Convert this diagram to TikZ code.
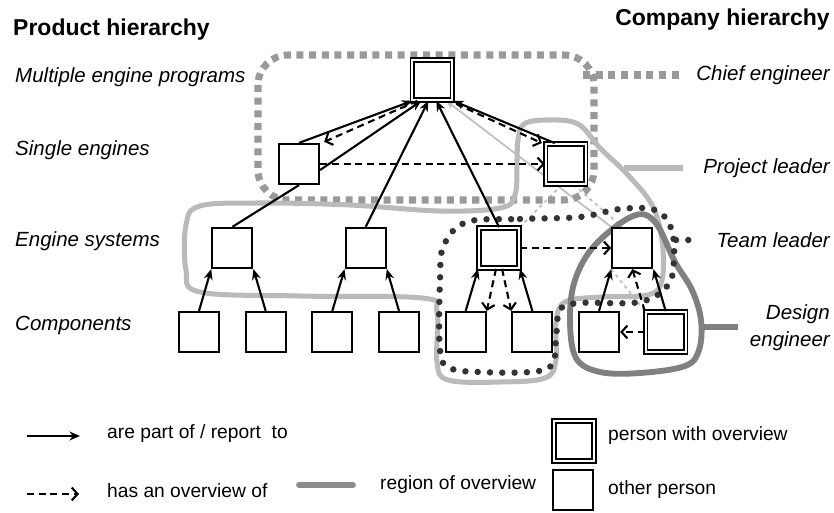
\documentclass[tikz,border=0pt]{standalone}
\usepackage{fontspec}
\setmainfont{Liberation Sans}
\usetikzlibrary{arrows.meta, positioning, calc, backgrounds}
\tikzset{
person/.style={draw, fill=white, line width=1.9pt, minimum size=1.2cm, inner sep=0pt}, % a plain box
leader/.style={person, line width=1.5pt, double, double distance=1.6pt}, % a person with overview
part/.style={-{Stealth[length=9pt,width=7.5pt]}, line width=1.8pt}, % are part of / report to
sees/.style={-{Straight Barb[length=5pt,width=11pt]}, line width=1.8pt, dash pattern=on 6pt off 4pt}, % has an overview of
faint/.style={black!25, line width=1.5pt},
chiefzone/.style={black!40, line width=6pt, dash pattern=on 6pt off 4.8pt},
projzone/.style={black!27, line width=4.3pt, line join=round},
teamzone/.style={black!80, line width=5.5pt, line cap=round, dash pattern=on 0pt off 10.5pt},
designzone/.style={black!50, line width=5pt, line join=round},
level/.style={font=\fontsize{17.5}{21}\selectfont\itshape, anchor=west, inner sep=0pt},
role/.style={font=\fontsize{17.5}{23}\selectfont\itshape, anchor=east, align=right, inner sep=0pt},
heading/.style={font=\fontsize{19.6}{23}\selectfont\bfseries, inner sep=0pt},
legend/.style={font=\fontsize{16.4}{19}\selectfont, anchor=west, inner sep=0pt},
}
\begin{document}
\begin{tikzpicture}[x=0.03cm, y=-0.03cm, node distance=2cm]
        \useasboundingbox (0,0) rectangle (834,513);

        % headings and level names
        \node[heading, anchor=west] (prodhead) at (13,30) {Product hierarchy};
        \node[heading, anchor=east] (comphead) at (830,20) {Company hierarchy};
        \node[level] (lvl1) at (15,77) {Multiple engine programs};
        \node[level] (lvl2) at (15,150) {Single engines};
        \node[level] (lvl3) at (15,241) {Engine systems};
        \node[level] (lvl4) at (15,325) {Components};
        \node[role] (chiefname) at (830,75) {Chief engineer};
        \node[role] (projname) at (830,168) {Project leader};
        \node[role] (teamname) at (830,240) {Team leader};
        \node[role] (designname) at (830,328) {Design\\engineer};

        % components
        \node[person] (c1) at (199,332) {};
        \node[person, right of=c1] (c2) {};
        \node[person, right of=c2] (c3) {};
        \node[person, right of=c3] (c4) {};
        \node[person, right of=c4] (c5) {};
        \node[person, right of=c5] (c6) {};
        \node[person, right of=c6] (c7) {};
        \node[leader, right of=c7] (c8) {};

        % engine systems, single engines, programs
        \node[person] (e1) at ($(c1)!.5!(c2)+(0,-84)$) {};
        \node[person] (e2) at ($(c3)!.5!(c4)+(0,-84)$) {};
        \node[leader] (e3) at ($(c5)!.5!(c6)+(0,-84)$) {};
        \node[person] (e4) at ($(c7)!.5!(c8)+(0,-84)$) {};
        \node[person] (s1) at ($(e1)!.5!(e2)+(0,-84)$) {};
        \node[leader] (pl) at ($(e3)!.5!(e4)+(0,-84)$) {};
        \node[leader] (chief) at ($(s1)!.5!(pl)+(0,-84)$) {};

        % are part of / report to
        \foreach \kid/\boss/\side in {c1/e1/south west, c2/e1/south east, c3/e2/south west, c4/e2/south east,
                c5/e3/south west, c6/e3/south east, c7/e4/south west, c8/e4/south east}
            \draw[part] (\kid.north) -- (\boss.\side);
        \draw[line width=1.8pt] (e1.north) -- (s1.south);
        \draw[part] (s1.north) -- ($(chief.south)+(-20,0)$);
        \draw[part] ($(s1.east)+(0,6)$) -- ($(chief.south)+(-11,0)$);
        \draw[part] (e2.north) -- ($(chief.south)+(-4,0)$);
        \draw[part] (e3.north) -- ($(chief.south)+(4,0)$);
        \draw[part] ($(pl.north west)+(10,0)$) -- (chief.south east);

        % has an overview of
        \draw[sees] ($(chief.south)+(-15,0)$) -- ($(s1.north east)+(4,-1)$);
        \draw[sees] ($(chief.south east)+(3,3)$) -- ($(pl.north west)+(-3,0)$);
        \draw[sees] (s1.east) -- (pl.west);
        \draw[sees] (e3.east) -- (e4.west);
        \draw[sees] ($(e3.south)+(-3,0)$) -- (c5.north east);
        \draw[sees] ($(e3.south)+(3,0)$) -- (c6.north west);
        \draw[sees] (c8.west) -- (c7.east);
        \draw[sees] (c8.north west) -- (e4.south);

        \begin{pgfonlayer}{background}
            % lines hidden behind the boxes
            \draw[faint, -{Stealth[length=7pt,width=6pt]}] (e4.north west) -- ($(chief.south)+(14,0)$);
            \draw[faint, dashed] ($(pl.south)+(-4,0)$) -- (e3.north east);
            \draw[faint, dashed] ($(pl.south)+(8,0)$) -- ($(e4.north)+(-10,0)$);
            \draw[faint, dashed] (e4.south west) -- (c8.north west);

            % regions of overview
            \draw[chiefzone, rounded corners=0.9cm] (258,55) rectangle (594,200);
            \coordinate (chiefend) at (583,75);
            \draw[chiefzone] (chiefend) -- ([xshift=-14pt]chiefname.west);

            \draw[projzone] plot[smooth cycle, tension=0.6] coordinates {(518,140) (524,124) (548,120) (578,124)
                (600,148) (628,175) (652,205) (662,240) (662,280) (648,295) (600,297) (565,302) (556,322)
                (556,360) (545,378) (500,382) (448,380) (437,362) (437,312) (422,298) (300,296) (200,292)
                (186,270) (186,225) (200,206) (260,203) (350,205) (440,211) (500,208) (515,195) (517,160)};
            \coordinate (projend) at (624,168);
            \draw[projzone] (projend) -- ([xshift=-17pt]projname.west);

            \draw[designzone] plot[smooth cycle, tension=0.6] coordinates {(633,216) (655,222) (675,262)
                (692,290) (701,320) (699,350) (685,366) (640,373) (600,372) (576,358) (570,320) (575,280) (595,245)};
            \coordinate (designend) at (701,327);
            \draw[designzone] (designend) -- (738,327);

            \draw[teamzone] plot[smooth cycle, tension=0.6] coordinates {(467,222) (520,219) (580,217) (620,209)
                (655,210) (671,228) (674,258) (668,285) (640,302) (580,303) (560,310) (556,340) (552,365)
                (530,372) (480,372) (450,368) (440,350) (440,280) (444,245)};
            \coordinate (teamend) at (676,240);
            \draw[teamzone] (teamend) -- ([xshift=-14pt]teamname.west);
        \end{pgfonlayer}

        % legend
        \coordinate (k1) at (27,436);
        \coordinate (k2) at (80,436);
        \draw[part] (k1) -- (k2);
        \node[legend] (t1) at (107,434) {are part of / report~ to};
        \coordinate (k3) at (27,494);
        \coordinate (k4) at (79,494);
        \draw[sees] (k3) -- (k4);
        \node[legend] (t2) at (107,491) {has an overview of};
        \coordinate (k5) at (299,485);
        \coordinate (k6) at (353,485);
        \draw[black!45, line width=5pt, line cap=round] (k5) -- (k6);
        \node[legend] (t3) at (380,485) {region of overview};
        \node[leader] (k7) at (574,441) {};
        \node[person] (k8) at (573,490) {};
        \node[legend] (t4) at (608,436) {person with overview};
        \node[legend] (t5) at (608,490) {other person};
    \end{tikzpicture}
\end{document}
